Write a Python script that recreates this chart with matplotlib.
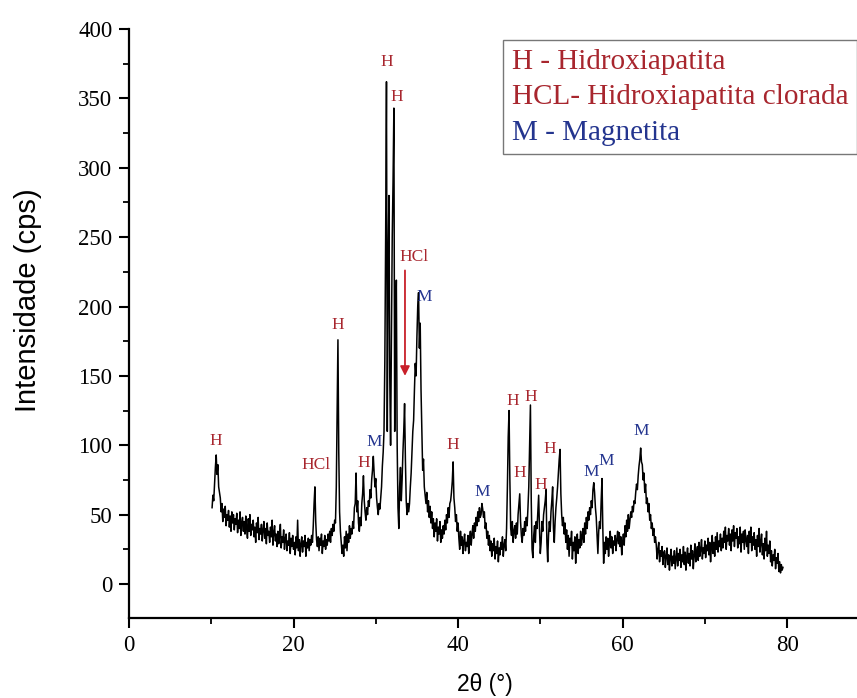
import numpy as np
import matplotlib
matplotlib.use("Agg")
import matplotlib.pyplot as plt
from matplotlib.lines import Line2D

# scan starts at 10.1 deg, step 0.1 deg (row = 1 deg)
start_2theta = 10.1
step_2theta = 0.1
intensity = [
    55, 64, 60, 72, 84, 93, 79, 86, 70, 66,        # 10.1
    62, 52, 58, 45, 54, 48, 56, 42, 50, 46,
    53, 41, 49, 38, 52, 44, 50, 39, 47, 43,
    51, 37, 46, 40, 52, 35, 44, 48, 38, 45,
    36, 49, 40, 33, 47, 38, 50, 35, 43, 39,
    46, 34, 41, 30, 44, 37, 48, 32, 40, 36,        # 15.1
    43, 31, 39, 45, 33, 40, 29, 44, 35, 38,
    30, 41, 34, 46, 28, 37, 42, 31, 36, 27,
    38, 29, 35, 43, 26, 34, 30, 39, 25, 33,
    36, 24, 31, 28, 37, 22, 33, 27, 35, 25,
    30, 21, 34, 26, 46, 24, 32, 20, 29, 34,        # 20.1
    23, 31, 27, 35, 20, 30, 26, 33, 24, 32,
    28, 35, 30, 42, 58, 70, 45, 32, 27, 34,
    24, 33, 28, 36, 22, 31, 27, 35, 25, 32,
    28, 36, 31, 38, 30, 40, 35, 43, 38, 46,
    44, 70, 120, 176, 95, 52, 38, 30, 22, 28,      # 25.1
    20, 34, 26, 38, 24, 36, 30, 42, 33, 40,
    36, 45, 40, 55, 58, 80, 52, 60, 44, 38,
    48, 42, 58, 65, 78, 60, 52, 46, 55, 50,
    60, 56, 68, 62, 75, 82, 92, 80, 70, 76,
    62, 55, 50, 58, 54, 62, 70, 85, 95, 110,       # 30.1
    160, 250, 362, 110, 230, 280, 150, 100, 180, 250,
    290, 343, 110, 180, 219, 100, 55, 40, 70, 84,
    60, 75, 95, 110, 130, 90, 60, 50, 58, 52,
    58, 70, 80, 95, 110, 118, 140, 159, 150, 178,
    200, 210, 170, 188, 140, 110, 82, 90, 70, 64,  # 35.1
    58, 66, 52, 60, 48, 56, 44, 52, 40, 47,
    34, 44, 38, 47, 31, 41, 36, 45, 30, 39,
    33, 42, 36, 46, 39, 50, 44, 55, 48, 58,
    60, 66, 74, 88, 62, 55, 45, 50, 38, 44,
    33, 25, 38, 28, 34, 22, 31, 36, 24, 30,        # 40.1
    27, 35, 22, 32, 38, 28, 36, 42, 33, 44,
    38, 48, 42, 52, 45, 55, 48, 50, 58, 54,
    48, 52, 40, 44, 33, 38, 28, 35, 24, 31,
    20, 29, 24, 33, 18, 27, 22, 31, 16, 26,
    21, 30, 25, 34, 20, 28, 32, 24, 40, 70,        # 45.1
    106, 125, 75, 40, 35, 45, 30, 38, 42, 33,
    44, 36, 50, 58, 65, 45, 35, 30, 40, 35,
    45, 38, 48, 42, 55, 70, 100, 129, 60, 25,
    19, 35, 42, 30, 45, 40, 52, 64, 40, 22,
    30, 45, 38, 50, 55, 60, 68, 30, 16, 35,        # 50.1
    45, 38, 52, 60, 70, 40, 30, 45, 55, 62,
    70, 80, 90, 97, 65, 50, 42, 48, 36, 44,
    30, 39, 25, 35, 20, 33, 28, 38, 18, 30,
    24, 34, 15, 29, 36, 22, 32, 26, 38, 28,
    33, 40, 30, 44, 36, 48, 40, 52, 46, 55,        # 55.1
    50, 60, 55, 68, 73, 66, 55, 48, 35, 22,
    38, 45, 40, 60, 76, 40, 15, 30, 22, 34,
    25, 33, 20, 30, 38, 26, 34, 22, 31, 28,
    35, 24, 32, 38, 29, 37, 27, 34, 21, 30,
    36, 28, 42, 34, 46, 38, 50, 40, 46, 52,        # 60.1
    48, 56, 52, 60, 58, 66, 72, 68, 78, 85,
    90, 98, 88, 86, 75, 80, 66, 72, 58, 62,
    52, 58, 46, 50, 40, 44, 35, 40, 30, 34,
    28, 18, 25, 30, 16, 24, 20, 27, 14, 22,
    24, 12, 20, 26, 14, 21, 10, 19, 25, 13,        # 65.1
    20, 15, 24, 11, 19, 26, 13, 22, 17, 25,
    12, 21, 16, 27, 14, 23, 10, 20, 26, 15,
    22, 13, 28, 18, 24, 11, 21, 29, 16, 23,
    27, 17, 30, 20, 25, 32, 18, 26, 22, 31,
    19, 28, 24, 33, 21, 30, 16, 27, 35, 22,        # 70.1
    30, 20, 34, 25, 37, 23, 31, 27, 36, 24,
    33, 26, 38, 30, 41, 25, 35, 31, 40, 28,
    36, 24, 39, 31, 42, 27, 37, 33, 40, 26,
    34, 29, 41, 23, 36, 30, 38, 25, 39, 32,
    27, 35, 22, 38, 30, 41, 24, 34, 28, 37,        # 75.1
    25, 32, 20, 35, 27, 40, 23, 30, 36, 21,
    29, 18, 33, 24, 38, 20, 28, 22, 31, 16,
    24, 13, 21, 17, 25, 11, 19, 15, 22, 9,
    16, 8, 14, 10, 12,
]
two_theta = start_2theta + step_2theta * np.arange(len(intensity))

# peak labels
peak_text = ["H", "HCl", "H", "H", "M", "H", "H", "HCl", "M", "H", "M",
             "H", "H", "H", "H", "H", "M", "M", "M"]
peak_x = [10.6, 22.7, 25.4, 28.5, 29.8, 31.3, 32.5, 34.65, 35.9, 39.4, 42.9,
          46.6, 47.5, 48.9, 50.1, 51.2, 56.2, 58.0, 62.25]
peak_y = [103, 86, 187, 87, 102, 376, 351, 236, 207, 100, 66,
          132, 80, 135, 71, 97, 81, 89, 110]

legend_labels = ["H - Hidroxiapatita", "HCL- Hidroxiapatita clorada", "M - Magnetita"]

red = "#a8262e"
blue = "#24358f"
colors = {"H": red, "HCl": red, "M": blue}

serif = ["Liberation Serif", "DejaVu Serif"]
sans = ["Liberation Sans", "DejaVu Sans"]

fig = plt.figure(figsize=(8.57, 6.98), dpi=100)
ax = fig.add_axes([129/857, 80/698, 728/857, 589/698])

ax.plot(two_theta, intensity, color="black", lw=1.1)

for t, x, y in zip(peak_text, peak_x, peak_y):
    ax.text(x, y, t, color=colors[t], fontsize=12.5, family=serif,
            ha="center", va="center")

ax.annotate("", xy=(33.55, 148), xytext=(33.55, 228),
            arrowprops=dict(arrowstyle="-|>", color="#c8202a", lw=1.3,
                            mutation_scale=14))

ax.set_xlim(0, 88.5)
ax.set_ylim(-24.5, 400)
ax.set_xticks([0, 20, 40, 60, 80])
ax.set_xticks([10, 30, 50, 70], minor=True)
ax.set_yticks(np.arange(0, 401, 50))
ax.set_yticks(np.arange(25, 400, 50), minor=True)
ax.spines["top"].set_visible(False)
ax.spines["right"].set_visible(False)
for s in ["left", "bottom"]:
    ax.spines[s].set_linewidth(1.6)
ax.tick_params(which="major", direction="out", length=7, width=1.5, pad=5)
ax.tick_params(which="minor", direction="out", length=4, width=1.3)
for lab in ax.get_xticklabels() + ax.get_yticklabels():
    lab.set_family(serif)
    lab.set_fontsize(16.5)

ax.set_xlabel("2θ (°)", family=sans, fontsize=16.5)
ax.xaxis.set_label_coords(0.489, -0.093)
ax.set_ylabel("Intensidade (cps)", family=sans, fontsize=21)
ax.yaxis.set_label_coords(-0.12, 0.54)

handles = [Line2D([], [], linestyle="none") for _ in legend_labels]
leg = fig.legend(handles, legend_labels, loc="upper left",
                 bbox_to_anchor=(503/857, 1 - 40/698), frameon=True,
                 fancybox=False, edgecolor="#555555", handlelength=0,
                 handletextpad=0, borderpad=0.3, labelspacing=0.3,
                 borderaxespad=0, labelcolor=[red, red, blue],
                 prop={"family": serif, "size": 21})
leg.get_frame().set_linewidth(1.0)

fig.savefig("out.png", dpi=100)
